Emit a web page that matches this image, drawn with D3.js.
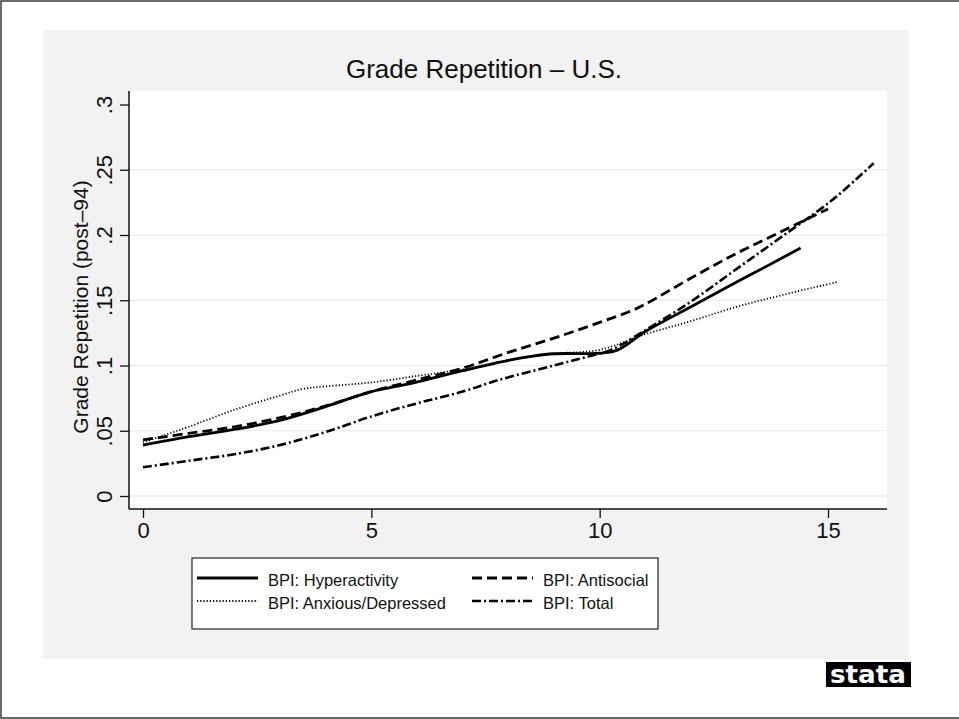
<!DOCTYPE html>
<html>
<head>
<meta charset="utf-8">
<script src="https://cdn.jsdelivr.net/npm/d3@7/dist/d3.min.js"></script>
<style>
  html, body { margin: 0; padding: 0; background: #ffffff; }
  svg { display: block; }
  text { font-family: "Liberation Sans", Arial, Helvetica, sans-serif; fill: #111; }
</style>
</head>
<body>
<svg id="chart" width="959" height="719"></svg>
<script>
// Smoothed grade-repetition rates by BPI score
const hyperX = [0, 1, 2, 3, 4, 5, 5.9, 7, 8, 8.5, 9, 10, 10.4, 11, 12, 13, 13.6, 14.4];
const hyperY = [0.039, 0.0455, 0.051, 0.058, 0.0685, 0.080, 0.0865, 0.096, 0.104, 0.107, 0.109, 0.1095, 0.112, 0.126, 0.145, 0.164, 0.175, 0.190];

const antiX = [0, 1, 2, 3, 4, 5, 6, 7, 8, 9, 10, 10.7, 11, 12, 13, 14, 15];
const antiY = [0.043, 0.048, 0.053, 0.060, 0.069, 0.080, 0.089, 0.098, 0.110, 0.121, 0.133, 0.142, 0.147, 0.167, 0.186, 0.203, 0.220];

const anxX = [0, 0.5, 1, 2, 3, 3.5, 4, 5, 6, 7, 8, 9, 10, 11, 12, 13, 14, 15.2];
const anxY = [0.041, 0.047, 0.053, 0.066, 0.077, 0.082, 0.084, 0.087, 0.092, 0.097, 0.104, 0.109, 0.112, 0.124, 0.134, 0.145, 0.154, 0.164];

const totalX = [0, 1, 2, 3, 4, 5, 6, 7, 7.8, 9, 9.65, 10.25, 11, 12, 13, 14, 15.1, 16];
const totalY = [0.022, 0.027, 0.032, 0.039, 0.049, 0.061, 0.071, 0.080, 0.089, 0.100, 0.106, 0.112, 0.127, 0.149, 0.174, 0.199, 0.227, 0.255];

const seriesNames = ["BPI: Hyperactivity", "BPI: Antisocial", "BPI: Anxious/Depressed", "BPI: Total"];
const xTicks = [0, 5, 10, 15];
const yTicks = [0, 0.05, 0.1, 0.15, 0.2, 0.25, 0.3];
const yTickLabels = ["0", ".05", ".1", ".15", ".2", ".25", ".3"];
const titleText = "Grade Repetition \u2013 U.S.";
const yTitleText = "Grade Repetition (post\u201394)";

const svg = d3.select("#chart");

// Outer frame and graph region
svg.append("rect").attr("x", 1).attr("y", 1).attr("width", 962).attr("height", 717)
  .attr("fill", "#ffffff").attr("stroke", "#3a3a3a").attr("stroke-width", 1.5);
svg.append("rect").attr("x", 43).attr("y", 30).attr("width", 866).attr("height", 629)
  .attr("fill", "#f2f2f2");

const plot = { left: 129, right: 887, top: 91, bottom: 509 };
svg.append("rect").attr("x", plot.left).attr("y", plot.top)
  .attr("width", plot.right - plot.left).attr("height", plot.bottom - plot.top)
  .attr("fill", "#ffffff");

const x = d3.scaleLinear().domain([0, 15]).range([143, 828]);
const y = d3.scaleLinear().domain([0, 0.3]).range([496, 104.5]);

// Horizontal grid
svg.append("g").selectAll("line").data(yTicks.filter(v => v < 0.3)).join("line")
  .attr("x1", plot.left + 1).attr("x2", plot.right)
  .attr("y1", d => y(d)).attr("y2", d => y(d))
  .attr("stroke", "#e8e8e8").attr("stroke-width", 1.2);

// Y axis
const yAxis = d3.axisLeft(y).tickValues(yTicks)
  .tickFormat((d, i) => yTickLabels[i]).tickSize(9).tickPadding(0);
const gy = svg.append("g").attr("transform", `translate(${plot.left},0)`).call(yAxis);
gy.select(".domain").attr("d", `M0,${plot.top}V${plot.bottom}`).attr("stroke", "#111").attr("stroke-width", 1.5);
gy.selectAll(".tick line").attr("stroke", "#111").attr("stroke-width", 1.3);
gy.selectAll(".tick text")
  .attr("x", 0).attr("y", 0).attr("dy", null)
  .attr("transform", "translate(-17,0) rotate(-90)")
  .attr("text-anchor", "middle")
  .style("font-size", "22px").style("fill", "#111");

// X axis
const xAxis = d3.axisBottom(x).tickValues(xTicks).tickSize(9).tickPadding(0);
const gx = svg.append("g").attr("transform", `translate(0,${plot.bottom})`).call(xAxis);
gx.select(".domain").attr("d", `M${plot.left},0H${plot.right}`).attr("stroke", "#111").attr("stroke-width", 1.5);
gx.selectAll(".tick line").attr("stroke", "#111").attr("stroke-width", 1.3);
gx.selectAll(".tick text").attr("y", 29).attr("dy", null)
  .style("font-size", "22px").style("fill", "#111");

// Titles
svg.append("text").attr("x", 484).attr("y", 78).attr("text-anchor", "middle")
  .style("font-size", "26px").text(titleText);
svg.append("text").attr("transform", "translate(88,307) rotate(-90)")
  .attr("text-anchor", "middle").style("font-size", "21px").text(yTitleText);

// Series
const styles = [
  { dash: null, width: 2.8 },
  { dash: "10,5", width: 2.8 },
  { dash: "1.2,2", width: 1.8 },
  { dash: "9,3,2,3", width: 2.6 }
];
const series = [
  { name: seriesNames[0], xs: hyperX, ys: hyperY, style: styles[0] },
  { name: seriesNames[1], xs: antiX, ys: antiY, style: styles[1] },
  { name: seriesNames[2], xs: anxX, ys: anxY, style: styles[2] },
  { name: seriesNames[3], xs: totalX, ys: totalY, style: styles[3] }
];
const line = d3.line().x(d => x(d[0])).y(d => y(d[1])).curve(d3.curveCatmullRom.alpha(0.5));
svg.append("g").selectAll("path").data(series).join("path")
  .attr("d", s => line(s.xs.map((v, i) => [v, s.ys[i]])))
  .attr("fill", "none").attr("stroke", "#000")
  .attr("stroke-width", s => s.style.width)
  .attr("stroke-dasharray", s => s.style.dash);

// Legend
const lg = svg.append("g");
lg.append("rect").attr("x", 192).attr("y", 558).attr("width", 466).attr("height", 71)
  .attr("fill", "#ffffff").attr("stroke", "#333").attr("stroke-width", 1.3);
const legendOrder = [
  { s: series[0], col: 0, row: 0 },
  { s: series[1], col: 1, row: 0 },
  { s: series[2], col: 0, row: 1 },
  { s: series[3], col: 1, row: 1 }
];
const colX = [197, 472];
const rowY = [578, 601];
legendOrder.forEach(e => {
  lg.append("line").attr("x1", colX[e.col]).attr("x2", colX[e.col] + 61)
    .attr("y1", rowY[e.row]).attr("y2", rowY[e.row])
    .attr("stroke", "#000").attr("stroke-width", e.s.style.width)
    .attr("stroke-dasharray", e.s.style.dash);
  lg.append("text").attr("x", colX[e.col] + 71).attr("y", rowY[e.row] + 8)
    .style("font-size", "16.5px").text(e.s.name);
});

// Logo
svg.append("rect").attr("x", 826).attr("y", 662).attr("width", 85).attr("height", 25).attr("fill", "#000");
svg.append("text").attr("x", 830).attr("y", 683)
  .attr("textLength", 76).attr("lengthAdjust", "spacingAndGlyphs")
  .style("font-family", "'DejaVu Sans', sans-serif").style("font-weight", "bold")
  .style("font-size", "25px").style("fill", "#fff").text("stata");
</script>
</body>
</html>
